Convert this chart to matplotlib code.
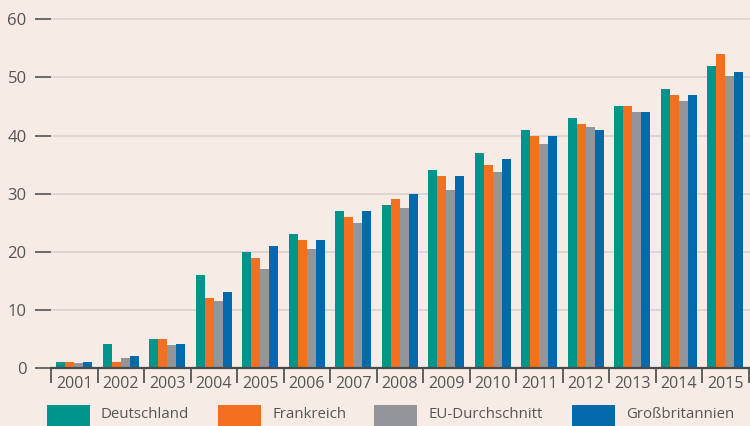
import matplotlib
matplotlib.use("Agg")
import matplotlib.pyplot as plt
import matplotlib.patches as patches
import numpy as np

years = ["2001", "2002", "2003", "2004", "2005", "2006", "2007", "2008",
         "2009", "2010", "2011", "2012", "2013", "2014", "2015"]
deutschland = [1.0, 4.1, 5.0, 16.0, 20.0, 23.0, 27.0, 28.0, 34.0, 37.0, 41.0, 43.0, 45.0, 48.0, 52.0]
frankreich = [1.0, 1.0, 5.0, 12.0, 19.0, 22.0, 26.0, 29.0, 33.0, 35.0, 40.0, 42.0, 45.0, 47.0, 54.0]
eu_schnitt = [0.8, 1.7, 3.9, 11.5, 17.0, 20.4, 24.9, 27.5, 30.7, 33.7, 38.6, 41.4, 44.0, 46.0, 50.3]
grossbritannien = [1.0, 2.1, 4.1, 13.0, 21.0, 22.0, 27.0, 30.0, 33.0, 36.0, 40.0, 41.0, 44.0, 47.0, 51.0]

series = [
    ("Deutschland", deutschland, "#00958a"),
    ("Frankreich", frankreich, "#f37021"),
    ("EU-Durchschnitt", eu_schnitt, "#939598"),
    ("Großbritannien", grossbritannien, "#006aac"),
]

BG = "#f6ebe5"
TXT = "#555555"
plt.rcParams["font.family"] = ["Open Sans", "DejaVu Sans"]

W, H = 750, 426
fig = plt.figure(figsize=(W / 100, H / 100), dpi=100, facecolor=BG)
# axes box in pixels: left 51, bottom at 368, top at 10
ax = fig.add_axes([51 / W, 1 - 368 / H, (W - 51) / W, (368 - 10) / H])
ax.set_facecolor(BG)

x = np.arange(len(years))
bw = 0.194
for k, (name, vals, col) in enumerate(series):
    ax.bar(x + (k - 1.5) * bw, vals, width=bw, color=col, zorder=3, linewidth=0)

ax.set_xlim(-0.5, 14.53)
ax.set_ylim(0, 61.6)

for s in ["top", "right", "left"]:
    ax.spines[s].set_visible(False)
ax.spines["bottom"].set_color("#4a4a4a")
ax.spines["bottom"].set_linewidth(1.6)
ax.spines["bottom"].set_zorder(4)

ax.set_yticks([0, 10, 20, 30, 40, 50, 60])
ax.yaxis.grid(True, color="#d8d2cf", linewidth=1.2, zorder=0)
ax.tick_params(axis="y", length=11.5, width=1.4, color="#6a6a6a", pad=6,
               labelsize=12, labelcolor=TXT)

ax.set_xticks(x)
ax.set_xticklabels(years)
ax.set_xticks(np.arange(len(years) + 1) - 0.5, minor=True)
ax.tick_params(axis="x", which="major", length=0, pad=6, labelsize=11.5, labelcolor=TXT)
ax.tick_params(axis="x", which="minor", length=11, width=1.2, color="#4a4a4a")

# legend
leg_x = [47, 218, 374, 572]
for (name, vals, col), lx in zip(series, leg_x):
    fig.add_artist(patches.Rectangle((lx / W, 0), 43 / W, 21 / H,
                                     transform=fig.transFigure, color=col, lw=0))
    fig.text((lx + 54) / W, 1 - 415 / H, name, fontsize=10.8, color=TXT,
             va="center", ha="left")

fig.savefig("out.png", dpi=100, facecolor=BG)
